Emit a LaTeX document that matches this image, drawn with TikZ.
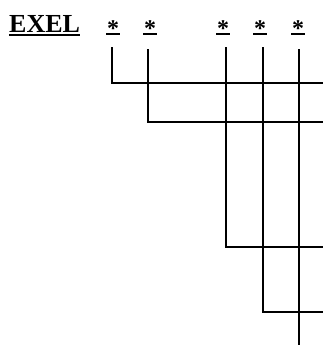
\documentclass[tikz,border=0pt]{standalone}
\usepackage{fontspec}
\setmainfont{Liberation Serif}
\begin{document}
\begin{tikzpicture}[x=1pt,y=-1pt,
  lbl/.style={inner sep=0pt,anchor=base,font=\fontsize{26}{26}\selectfont\bfseries},
  starlbl/.style={inner sep=0pt,anchor=base,font=\fontsize{24}{24}\selectfont\bfseries},
  wire/.style={line width=2.1pt,line cap=rect},
  ulbar/.style={line width=2pt}]
\useasboundingbox (0,0) rectangle (323,346);
\node[lbl,anchor=base west] (ex) at (9,32) {EXEL};
\draw[ulbar] (ex.base west) ++(0,2.5) -- (ex.base east |- 0,34.5);
\foreach \n/\x in {s1/113,s2/150,s3/223,s4/260,s5/298}{
  \node[starlbl] (\n) at (\x,36) {*};
  \draw[ulbar] (\x-7,33.5) -- (\x+7,33.5);
}
\coordinate (t1) at (112,48);
\coordinate (t2) at (148,50);
\coordinate (t3) at (226,48);
\coordinate (t4) at (263,48);
\coordinate (t5) at (299,50);
\coordinate (c1) at (112,83);
\coordinate (c2) at (148,122);
\coordinate (c3) at (226,247);
\coordinate (c4) at (263,312);
\coordinate (e1) at (323,83);
\coordinate (e2) at (323,122);
\coordinate (e3) at (323,247);
\coordinate (e4) at (323,312);
\coordinate (b5) at (299,344);
\draw[wire] (t1) -- (c1) -- (e1);
\draw[wire] (t2) -- (c2) -- (e2);
\draw[wire] (t3) -- (c3) -- (e3);
\draw[wire] (t4) -- (c4) -- (e4);
\draw[wire] (t5) -- (b5);
\end{tikzpicture}
\end{document}
